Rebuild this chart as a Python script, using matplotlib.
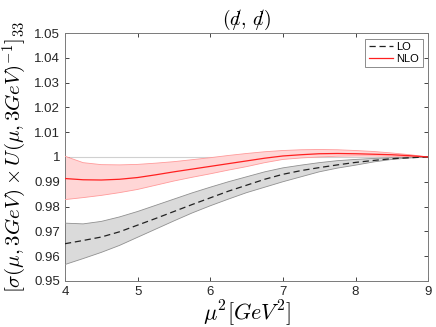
import numpy as np
import matplotlib
matplotlib.use("Agg")
import matplotlib.pyplot as plt
from matplotlib.ticker import FormatStrFormatter

plt.rcParams['mathtext.fontset'] = 'cm'
plt.rcParams['font.family'] = ['Liberation Sans', 'DejaVu Sans']

mu2 = [4.0, 4.25, 4.5, 4.75, 5.0, 5.25, 5.5, 5.75, 6.0, 6.25, 6.5,
       6.75, 7.0, 7.25, 7.5, 7.75, 8.0, 8.25, 8.5, 8.75, 9.0]

lo_mid = [0.9650, 0.9663, 0.9677, 0.9698, 0.9725, 0.9752, 0.9780, 0.9808, 0.9835, 0.9862, 0.9886,
          0.9910, 0.9930, 0.9945, 0.9957, 0.9968, 0.9978, 0.9986, 0.9993, 0.9997, 1.0]
lo_up = [0.9733, 0.9730, 0.9740, 0.9758, 0.9780, 0.9805, 0.9830, 0.9855, 0.9878, 0.9900, 0.9920,
         0.9940, 0.9956, 0.9967, 0.9977, 0.9985, 0.9990, 0.9994, 0.9997, 0.9999, 1.0]
lo_dn = [0.9566, 0.9590, 0.9615, 0.9643, 0.9676, 0.9709, 0.9742, 0.9774, 0.9803, 0.9830, 0.9856,
         0.9878, 0.9900, 0.9920, 0.9940, 0.9955, 0.9967, 0.9980, 0.9990, 0.9996, 1.0]

nlo_mid = [0.9913, 0.9908, 0.9907, 0.9910, 0.9917, 0.9928, 0.9940, 0.9951, 0.9962, 0.9973, 0.9984,
           0.9995, 1.0004, 1.0009, 1.0013, 1.0014, 1.0013, 1.0011, 1.0009, 1.0005, 1.0]
nlo_up = [1.0003, 0.9977, 0.9969, 0.9968, 0.9970, 0.9975, 0.9981, 0.9989, 0.9997, 1.0006, 1.0014,
          1.0021, 1.0026, 1.0029, 1.0030, 1.0029, 1.0026, 1.0022, 1.0016, 1.0009, 1.0]
nlo_dn = [0.9828, 0.9836, 0.9845, 0.9856, 0.9869, 0.9886, 0.9903, 0.9918, 0.9932, 0.9947, 0.9961,
          0.9977, 0.9990, 0.9996, 1.0000, 1.0003, 1.0004, 1.0004, 1.0003, 1.0002, 1.0]

fig = plt.figure(figsize=(4.36, 3.27), dpi=100)
ax = fig.add_axes([0.149, 0.141, 0.833, 0.758])

ax.axhline(1.0, color='#d0d0d0', lw=0.8, zorder=1)

ax.fill_between(mu2, lo_dn, lo_up, facecolor='#dadada', edgecolor='none', zorder=2)
ax.plot(mu2, lo_up, color='#909090', lw=0.6, zorder=3)
ax.plot(mu2, lo_dn, color='#909090', lw=0.6, zorder=3)
ax.fill_between(mu2, nlo_dn, nlo_up, facecolor='#ffd6d6', edgecolor='none', zorder=2)
ax.plot(mu2, nlo_up, color='#ff9a9a', lw=0.6, zorder=3)
ax.plot(mu2, nlo_dn, color='#ff9a9a', lw=0.6, zorder=3)

ax.plot(mu2, lo_mid, color='#222222', ls='--', lw=0.9, dashes=(5, 3), label='LO', zorder=4)
ax.plot(mu2, nlo_mid, color='#ff2020', lw=0.9, label='NLO', zorder=4)

ax.set_xlim(4, 9)
ax.set_ylim(0.95, 1.05)
ax.set_xticks(range(4, 10))
ax.set_yticks(np.arange(0.95, 1.0501, 0.01))
ax.yaxis.set_major_formatter(FormatStrFormatter('%g'))
ax.xaxis.set_major_formatter(FormatStrFormatter('%g'))
ax.tick_params(direction='in', top=True, right=True, labelsize=9.5, colors='#262626',
               length=3, width=0.6)
for s in ax.spines.values():
    s.set_color('#7a7a7a')
    s.set_linewidth(0.7)

ax.set_xlabel(r'$\mu^2[GeV^2]$', fontsize=16, labelpad=0)
ax.set_ylabel(r'$[\sigma(\mu,3GeV)\times U(\mu,3GeV)^{-1}]_{33}$', fontsize=15, labelpad=4)
ax.set_title(r'$(d\!\!\!/,\,d\!\!\!/)$', fontsize=14, pad=6)

leg = ax.legend(loc='upper right', fontsize=8, handlelength=2.2, handletextpad=0.3,
                borderpad=0.3, labelspacing=0.2, fancybox=False, framealpha=1,
                borderaxespad=0.5)
leg.get_frame().set_edgecolor('#7a7a7a')
leg.get_frame().set_linewidth(0.6)

fig.savefig('out.png', dpi=100)
